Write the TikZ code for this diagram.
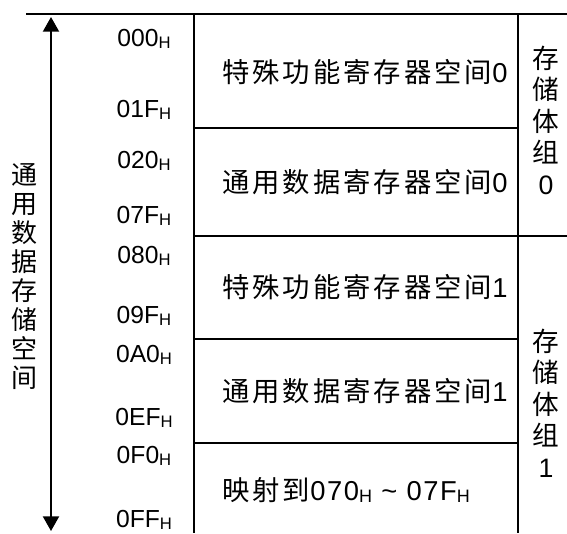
\documentclass[tikz,border=0pt]{standalone}
\usepackage{fontspec}
\setmainfont{Liberation Sans}
\newfontfamily\cjk[LetterSpace=11]{Noto Sans CJK SC}
\newfontfamily\cjkv{Noto Sans CJK SC}
\newfontfamily\digsp[LetterSpace=6]{Liberation Sans}
\usetikzlibrary{arrows.meta}
\newcommand\hsubA{\raisebox{-1.5pt}{\fontsize{12.5}{12.5}\selectfont H}}
\newcommand\hsubB{\raisebox{-1.5pt}{\fontsize{13.5}{13.5}\selectfont H}}
\tikzset{
  rule/.style={line width=1.5pt},
  addr/.style={anchor=base, inner sep=0pt, font=\fontsize{18.5}{18.5}\selectfont},
  cell/.style={anchor=west, inner sep=0pt, font=\fontsize{20.5}{20.5}\selectfont},
  vlabel/.style={align=center, inner sep=0pt, font=\fontsize{19.5}{21.75}\selectfont\cjkv},
  blabel/.style={align=center, inner sep=0pt, font=\fontsize{20}{23.6}\selectfont\cjkv},
}
\begin{document}
\begin{tikzpicture}[x=0.75pt,y=-0.75pt]
\useasboundingbox (0,0) rectangle (567,533);
% frame
\coordinate (tl) at (26,14);
\coordinate (tr) at (567,14);
\coordinate (c1t) at (194,14);
\coordinate (c1b) at (194,533);
\coordinate (c2t) at (518,14);
\coordinate (c2b) at (518,533);
\draw[rule] (tl) -- (tr);
\draw[rule] (c1t) -- (c1b);
\draw[rule] (c2t) -- (c2b);
\coordinate (h1a) at (194,128); \coordinate (h1b) at (518,128);
\coordinate (h2a) at (194,236); \coordinate (h2b) at (567,236);
\coordinate (h3a) at (194,339); \coordinate (h3b) at (518,339);
\coordinate (h4a) at (194,443); \coordinate (h4b) at (518,443);
\draw[rule] (h1a) -- (h1b);
\draw[rule] (h2a) -- (h2b);
\draw[rule] (h3a) -- (h3b);
\draw[rule] (h4a) -- (h4b);
% arrow
\coordinate (at) at (51,17);
\coordinate (ab) at (51,531);
\draw[rule, {Triangle[length=11pt,width=12pt]}-{Triangle[length=11pt,width=12pt]}] (at) -- (ab);
% left label
\node[vlabel] (space) at (25,277) {通\\用\\数\\据\\存\\储\\空\\间};
% addresses
\node[addr] (a000) at (144,46) {000\hsubA};
\node[addr] (a01F) at (144,117) {01F\hsubA};
\node[addr] (a020) at (144,168) {020\hsubA};
\node[addr] (a07F) at (144,223) {07F\hsubA};
\node[addr] (a080) at (144,263) {080\hsubA};
\node[addr] (a09F) at (144,323) {09F\hsubA};
\node[addr] (a0A0) at (144,362) {0A0\hsubA};
\node[addr] (a0EF) at (144,425) {0EF\hsubA};
\node[addr] (a0F0) at (144,463) {0F0\hsubA};
\node[addr] (a0FF) at (144,527) {0FF\hsubA};
% cells
\node[cell] (sfr0) at (222,72) {{\cjk 特殊功能寄存器空间}{\digsp 0}};
\node[cell] (gpr0) at (222,182) {{\cjk 通用数据寄存器空间}{\digsp 0}};
\node[cell] (sfr1) at (222,287) {{\cjk 特殊功能寄存器空间}{\digsp 1}};
\node[cell] (gpr1) at (222,391) {{\cjk 通用数据寄存器空间}{\digsp 1}};
\node[cell] (map) at (222,490) {{\cjk 映射到}{\digsp 070\hsubB{} \char`~{} 07F\hsubB}};
% banks
\node[blabel] (bank0) at (546,120) {存\\储\\体\\组\\{\fontspec{Liberation Sans}0}};
\node[blabel] (bank1) at (546,403) {存\\储\\体\\组\\{\fontspec{Liberation Sans}1}};
\end{tikzpicture}
\end{document}
